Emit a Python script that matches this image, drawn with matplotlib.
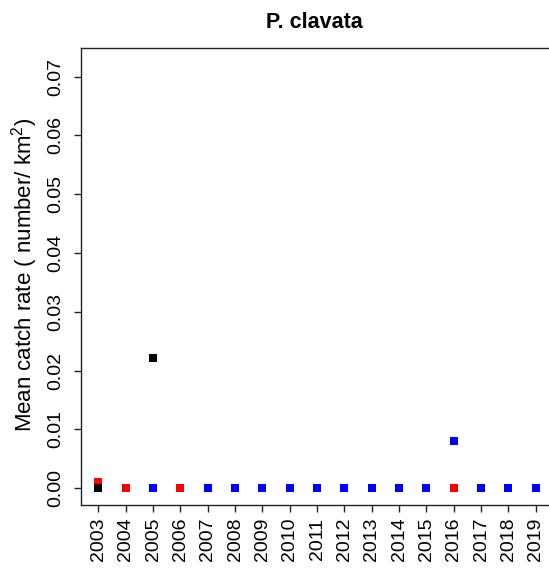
import matplotlib
matplotlib.use('Agg')
import matplotlib.pyplot as plt

plt.rcParams['font.family'] = ['Liberation Sans', 'DejaVu Sans']
plt.rcParams['mathtext.fontset'] = 'custom'
plt.rcParams['mathtext.rm'] = 'Liberation Sans'

years = list(range(2003, 2020))
y_ticks = [0.00, 0.01, 0.02, 0.03, 0.04, 0.05, 0.06, 0.07]
y_tick_labels = ['0.00', '0.01', '0.02', '0.03', '0.04', '0.05', '0.06', '0.07']

red_years = [2003, 2004, 2006, 2016]
red_vals = [0.001, 0.0, 0.0, 0.0]

blue_years = [2005, 2007, 2008, 2009, 2010, 2011, 2012, 2013, 2014, 2015, 2016, 2017, 2018, 2019]
blue_vals = [0.0, 0.0, 0.0, 0.0, 0.0, 0.0, 0.0, 0.0, 0.0, 0.0, 0.008, 0.0, 0.0, 0.0]

black_years = [2003, 2005]
black_vals = [0.0, 0.0222]

W, H = 549, 572
fig = plt.figure(figsize=(W / 100, H / 100), dpi=100)
left, right, top, bottom = 81, 553.2, 48, 505
ax = fig.add_axes([left / W, 1 - bottom / H, (right - left) / W, (bottom - top) / H])

ax.plot(red_years, red_vals, 's', color='#FF0000', ms=6, mew=0, linestyle='none')
ax.plot(blue_years, blue_vals, 's', color='#0000FF', ms=6, mew=0, linestyle='none')
ax.plot(black_years, black_vals, 's', color='#000000', ms=6, mew=0, linestyle='none')

ax.set_xlim(2002.36, 2019.64)
ax.set_ylim(-0.00288, 0.07488)
ax.set_xticks(years)
ax.set_xticklabels([str(y) for y in years], rotation=90, fontsize=14)
ax.set_yticks(y_ticks)
ax.set_yticklabels(y_tick_labels, rotation=90, va='center', fontsize=14)
ax.tick_params(axis='both', direction='out', length=5, width=1.0, colors='#222222', labelcolor='black')
ax.tick_params(axis='y', pad=7)
ax.tick_params(axis='x', pad=4)
for s in ax.spines.values():
    s.set_linewidth(1.0)
    s.set_color('#222222')

fig.text(314 / W, 1 - 22 / H, 'P. clavata', fontsize=15.5, fontweight='bold', ha='center', va='center')
fig.text(25 / W, 1 - 275 / H, r'Mean catch rate ( number/ km$\mathregular{^2}$)', fontsize=16,
         rotation=90, ha='center', va='center')

fig.savefig('out.png', dpi=100)
